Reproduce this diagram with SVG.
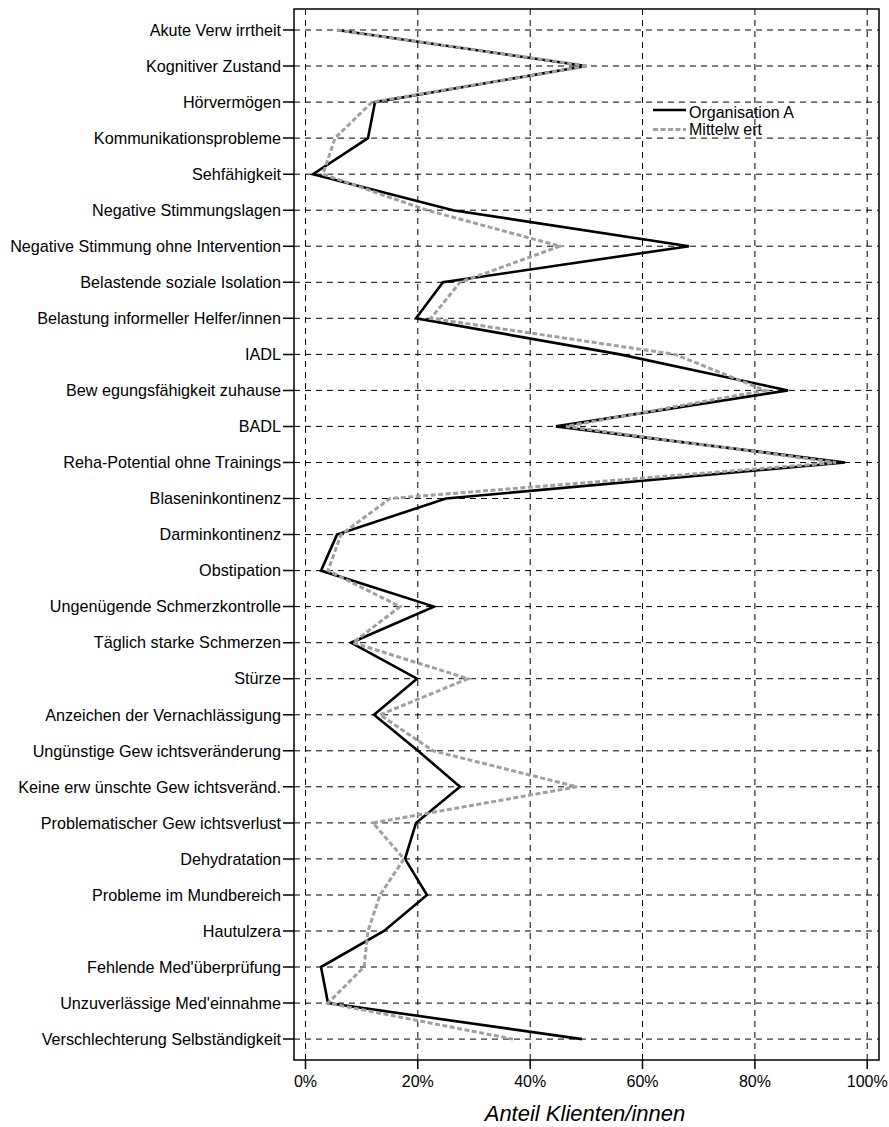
<svg xmlns="http://www.w3.org/2000/svg" width="889" height="1127" viewBox="0 0 889 1127">
<style>
.lbl{font-family:"Liberation Sans",Arial,sans-serif;font-size:16.2px;fill:#000;text-anchor:end}
.tick{font-family:"Liberation Sans",Arial,sans-serif;font-size:16px;fill:#000;text-anchor:middle}
.leg{font-family:"Liberation Sans",Arial,sans-serif;font-size:16px;fill:#000}
.title{font-family:"Liberation Sans",Arial,sans-serif;font-size:22px;font-style:italic;fill:#000;text-anchor:middle}
.grid{stroke:#000;stroke-width:1;stroke-dasharray:6 5;fill:none}
.axis{stroke:#000;stroke-width:1.5;fill:none}
.org{stroke:#000;stroke-width:2.6;fill:none;stroke-linejoin:miter;stroke-miterlimit:4}
.avg{stroke:#a0a0a0;stroke-width:3;fill:none;stroke-dasharray:5 2.5;stroke-linejoin:miter;stroke-miterlimit:4}
</style>
<rect width="889" height="1127" fill="#fff"/>
<g id="grid">
<path class="grid" d="M294,30H879M294,66H879M294,102.1H879M294,138.1H879M294,174.2H879M294,210.2H879M294,246.2H879M294,282.3H879M294,318.3H879M294,354.4H879M294,390.4H879M294,426.4H879M294,462.5H879M294,498.5H879M294,534.6H879M294,570.6H879M294,606.6H879M294,642.7H879M294,678.7H879M294,714.8H879M294,750.8H879M294,786.8H879M294,822.9H879M294,858.9H879M294,895H879M294,931H879M294,967H879M294,1003.1H879M294,1039.1H879"/>
<path class="grid" d="M305.5,9V1060M417.8,9V1060M530.2,9V1060M642.5,9V1060M754.9,9V1060M867.2,9V1060"/>
</g>
<g id="axes">
<rect class="axis" x="294" y="9" width="585" height="1051"/>
<path class="axis" d="M283,30H294M283,66H294M283,102.1H294M283,138.1H294M283,174.2H294M283,210.2H294M283,246.2H294M283,282.3H294M283,318.3H294M283,354.4H294M283,390.4H294M283,426.4H294M283,462.5H294M283,498.5H294M283,534.6H294M283,570.6H294M283,606.6H294M283,642.7H294M283,678.7H294M283,714.8H294M283,750.8H294M283,786.8H294M283,822.9H294M283,858.9H294M283,895H294M283,931H294M283,967H294M283,1003.1H294M283,1039.1H294"/>
<path class="axis" d="M305.5,1060V1069M417.8,1060V1069M530.2,1060V1069M642.5,1060V1069M754.9,1060V1069M867.2,1060V1069"/>
</g>
<g id="category-labels">
<text class="lbl" x="281" y="35.7">Akute Verw irrtheit</text>
<text class="lbl" x="281" y="71.7">Kognitiver Zustand</text>
<text class="lbl" x="281" y="107.8">Hörvermögen</text>
<text class="lbl" x="281" y="143.8">Kommunikationsprobleme</text>
<text class="lbl" x="281" y="179.9">Sehfähigkeit</text>
<text class="lbl" x="281" y="215.9">Negative Stimmungslagen</text>
<text class="lbl" x="281" y="251.9">Negative Stimmung ohne Intervention</text>
<text class="lbl" x="281" y="288">Belastende soziale Isolation</text>
<text class="lbl" x="281" y="324">Belastung informeller Helfer/innen</text>
<text class="lbl" x="281" y="360.1">IADL</text>
<text class="lbl" x="281" y="396.1">Bew egungsfähigkeit zuhause</text>
<text class="lbl" x="281" y="432.1">BADL</text>
<text class="lbl" x="281" y="468.2">Reha-Potential ohne Trainings</text>
<text class="lbl" x="281" y="504.2">Blaseninkontinenz</text>
<text class="lbl" x="281" y="540.3">Darminkontinenz</text>
<text class="lbl" x="281" y="576.3">Obstipation</text>
<text class="lbl" x="281" y="612.3">Ungenügende Schmerzkontrolle</text>
<text class="lbl" x="281" y="648.4">Täglich starke Schmerzen</text>
<text class="lbl" x="281" y="684.4">Stürze</text>
<text class="lbl" x="281" y="720.5">Anzeichen der Vernachlässigung</text>
<text class="lbl" x="281" y="756.5">Ungünstige Gew ichtsveränderung</text>
<text class="lbl" x="281" y="792.5">Keine erw ünschte Gew ichtsveränd.</text>
<text class="lbl" x="281" y="828.6">Problematischer Gew ichtsverlust</text>
<text class="lbl" x="281" y="864.6">Dehydratation</text>
<text class="lbl" x="281" y="900.7">Probleme im Mundbereich</text>
<text class="lbl" x="281" y="936.7">Hautulzera</text>
<text class="lbl" x="281" y="972.7">Fehlende Med'überprüfung</text>
<text class="lbl" x="281" y="1008.8">Unzuverlässige Med'einnahme</text>
<text class="lbl" x="281" y="1044.8">Verschlechterung Selbständigkeit</text>
</g>
<g id="x-ticks">
<text class="tick" x="305.5" y="1086.5">0%</text>
<text class="tick" x="417.8" y="1086.5">20%</text>
<text class="tick" x="530.2" y="1086.5">40%</text>
<text class="tick" x="642.5" y="1086.5">60%</text>
<text class="tick" x="754.9" y="1086.5">80%</text>
<text class="tick" x="867.2" y="1086.5">100%</text>
<text class="title" x="585" y="1121">Anteil Klienten/innen</text>
</g>
<g id="series">
<polyline id="organisation-a" class="org" points="337,30 586,66 375,102.1 368,138.1 313,174.2 453,210.2 689,246.2 443,282.3 416,318.3 620,354.4 788,390.4 556,426.4 845,462.5 446,498.5 337,534.6 321,570.6 434,606.6 351,642.7 417,678.7 374,714.8 418,750.8 460,786.8 416,822.9 405,858.9 427,895 384,931 321,967 328,1003.1 582,1039.1"/>
<polyline id="mittelwert" class="avg" points="337,30 588,66 372,102.1 335,138.1 323,174.2 427,210.2 560,246.2 460,282.3 431,318.3 675,354.4 765,390.4 566,426.4 836,462.5 390,498.5 341,534.6 328,570.6 400,606.6 353,642.7 468,678.7 380,714.8 433,750.8 577,786.8 373,822.9 404,858.9 380,895 368,931 364,967 328,1003.1 513,1039.1"/>
</g>
<g id="legend">
<line x1="653" y1="110" x2="686" y2="110" stroke="#000" stroke-width="2.6"/>
<text class="leg" x="689" y="118">Organisation A</text>
<line x1="653" y1="129.5" x2="686" y2="129.5" class="avg"/>
<text class="leg" x="689" y="135">Mittelw ert</text>
</g>
</svg>
